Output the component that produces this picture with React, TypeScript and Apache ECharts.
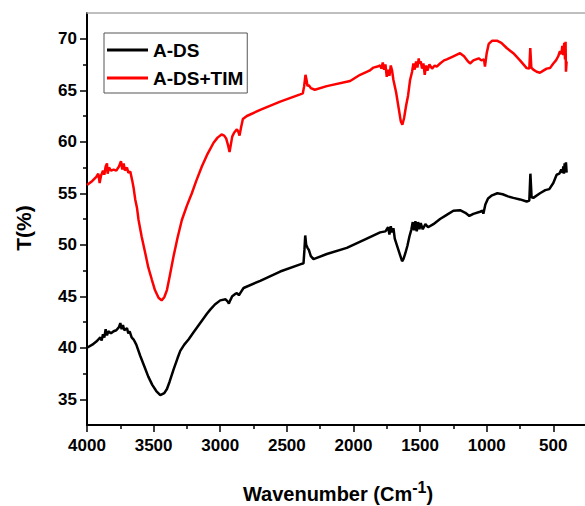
import React, { useEffect, useRef } from "react";
import * as echarts from "echarts";

const adsWn = [4000,3960,3930,3900,3890,3880,3870,3860,3850,3840,3820,3800,3780,3760,3750,3740,3730,3720,3700,3690,3680,3665,3650,3630,3600,3570,3540,3510,3480,3450,3420,3400,3380,3350,3320,3300,3270,3238,3200,3150,3100,3075,3040,3000,2960,2945,2935,2925,2910,2890,2875,2860,2845,2825,2700,2550,2400,2375,2368,2362,2355,2345,2335,2320,2300,2200,2050,1900,1800,1760,1740,1730,1720,1710,1700,1690,1670,1650,1635,1625,1610,1595,1580,1565,1555,1545,1535,1525,1515,1505,1495,1480,1460,1440,1400,1350,1300,1250,1200,1160,1130,1100,1050,1030,1025,1010,990,960,920,880,840,800,750,700,680,672,668,663,650,600,560,530,500,475,455,440,430,425,420,415,410,405,400];
const adsT = [40.0,40.3,40.6,41.0,40.7,41.3,41.0,41.8,41.2,41.6,41.4,41.6,41.7,42.0,42.4,41.8,42.2,41.7,41.9,41.4,41.6,41.0,40.8,40.3,39.2,38.2,37.2,36.4,35.8,35.4,35.6,36.0,36.7,37.9,39.0,39.7,40.3,40.8,41.5,42.4,43.3,43.7,44.2,44.6,44.7,44.5,44.3,44.6,45.0,45.2,45.3,45.1,45.4,45.8,46.5,47.4,48.1,48.2,49.5,50.9,50.0,49.7,49.5,48.9,48.6,49.1,49.7,50.6,51.2,51.3,51.7,51.0,51.8,51.2,51.6,50.6,49.8,49.0,48.4,48.6,49.2,49.9,50.8,51.5,52.2,51.4,52.3,51.3,52.2,51.5,52.1,51.5,52.0,51.7,52.0,52.5,52.9,53.3,53.35,53.1,52.8,53.0,53.2,53.3,53.0,53.9,54.5,54.8,55.0,54.9,54.7,54.55,54.4,54.2,54.3,56.9,56.9,54.6,54.55,55.0,55.3,55.4,56.0,56.8,56.9,57.3,57.0,57.6,56.9,57.9,57.2,58.0,57.0];

const timWn = [4000,3960,3930,3915,3905,3895,3880,3870,3860,3850,3845,3835,3820,3800,3780,3760,3745,3735,3725,3715,3700,3690,3675,3660,3650,3638,3625,3613,3590,3563,3540,3513,3490,3463,3440,3420,3400,3380,3350,3320,3288,3250,3213,3180,3138,3100,3050,3020,2990,2970,2955,2940,2930,2922,2910,2895,2875,2865,2855,2845,2830,2800,2700,2550,2400,2380,2370,2360,2352,2345,2335,2320,2290,2200,2025,1950,1880,1850,1820,1800,1790,1780,1770,1760,1750,1740,1730,1720,1710,1700,1680,1660,1645,1633,1620,1605,1590,1575,1560,1550,1540,1530,1520,1510,1505,1495,1485,1475,1465,1455,1445,1430,1410,1390,1375,1350,1320,1300,1250,1200,1170,1140,1125,1100,1060,1040,1020,1013,1000,985,960,920,890,850,800,750,700,680,673,668,665,650,625,600,575,550,525,500,480,463,450,440,432,425,418,412,408,405,400];
const timT = [55.8,56.2,56.6,56.9,56.0,56.7,57.2,56.8,57.6,57.9,56.9,57.5,57.2,57.3,57.2,57.6,58.1,57.3,57.9,57.2,57.5,57.0,57.1,56.2,55.5,54.4,53.6,52.4,50.8,49.2,47.8,46.6,45.6,44.85,44.6,44.9,45.6,46.9,48.9,50.7,52.4,53.8,55.0,56.2,57.6,58.7,59.9,60.4,60.7,60.6,60.3,59.6,59.0,59.6,60.5,60.9,61.2,61.0,60.6,61.3,62.2,62.5,63.1,63.9,64.6,64.7,65.4,66.5,66.0,65.4,65.5,65.2,65.05,65.4,65.9,66.5,66.9,67.2,67.3,67.4,67.1,67.7,67.0,67.5,66.3,67.0,66.4,67.4,66.9,66.0,64.8,63.2,62.0,61.65,62.3,63.5,64.5,66.0,66.8,67.6,67.0,67.8,67.2,68.1,67.6,67.8,67.1,67.6,66.5,67.4,66.9,67.5,67.1,67.4,67.3,67.6,67.9,68.0,68.3,68.6,68.3,67.8,67.6,67.9,68.1,67.9,68.0,67.3,68.6,69.5,69.8,69.8,69.6,69.1,68.6,67.9,67.15,67.1,69.1,69.1,67.2,67.0,66.8,66.7,66.9,67.1,67.15,67.6,67.9,68.3,68.8,68.5,69.3,68.4,69.6,68.0,69.7,66.8,67.8];

const seriesNames = ["A-DS", "A-DS+TIM"];
const yTitle = "T(%)";
const xTitle = "Wavenumber (Cm";
const xTitleSup = "-1";

const FONT = "'Liberation Sans', Arial, sans-serif";

function pairs(xs: number[], ys: number[]) {
  return xs.map((x, i) => [x, ys[i]]);
}

export default function App() {
  const ref = useRef<HTMLDivElement>(null);
  useEffect(() => {
    document.body.style.margin = "0";
    const chart = echarts.init(ref.current!, undefined, { renderer: "svg" });
    const labelStyle = { color: "#000", fontSize: 17, fontWeight: "bold", fontFamily: FONT };
    const tickStyle = { color: "#000", width: 1.5 };
    chart.setOption({
      animation: false,
      backgroundColor: "#fff",
      grid: [
        { left: 87, right: 0, top: 13, bottom: 81, show: false },
        { left: 87, right: 31.7, top: 38.75, bottom: 106.75, show: false },
      ],
      xAxis: [
        {
          gridIndex: 0, type: "value", inverse: true, min: 262.1, max: 4000,
          axisLine: { show: true, onZero: false, lineStyle: { color: "#000", width: 2 } },
          axisTick: { show: false },
          axisLabel: { show: false },
          splitLine: { show: false },
        },
        {
          gridIndex: 1, type: "value", inverse: true, min: 500, max: 4000, interval: 500,
          position: "bottom", offset: 25.75,
          axisLine: { show: false, onZero: false },
          axisTick: { show: true, inside: false, length: 7, lineStyle: tickStyle },
          minorTick: { show: true, splitNumber: 2, length: 4, lineStyle: tickStyle },
          axisLabel: { ...labelStyle, margin: 12, formatter: (v: number) => String(v) },
          splitLine: { show: false },
        },
        {
          gridIndex: 0, type: "value", inverse: true, min: 262.1, max: 4000, position: "top",
          axisLine: { show: true, onZero: false, lineStyle: { color: "#aaaaaa", width: 1.5 } },
          axisTick: { show: false },
          axisLabel: { show: false },
          splitLine: { show: false },
        },
      ],
      yAxis: [
        {
          gridIndex: 0, type: "value", min: 32.5, max: 72.5,
          axisLine: { show: true, onZero: false, lineStyle: { color: "#000", width: 2 } },
          axisTick: { show: false },
          axisLabel: { show: false },
          splitLine: { show: false },
        },
        {
          gridIndex: 1, type: "value", min: 35, max: 70, interval: 5,
          axisLine: { show: false, onZero: false },
          axisTick: { show: true, inside: false, length: 7, lineStyle: tickStyle },
          minorTick: { show: true, splitNumber: 2, length: 4, lineStyle: tickStyle },
          axisLabel: { ...labelStyle, margin: 10 },
          splitLine: { show: false },
        },
      ],
      legend: {
        left: 104, top: 33, orient: "vertical",
        data: seriesNames,
        icon: "rect",
        borderColor: "#555", borderWidth: 1,
        padding: [7, 4, 5, 3],
        itemWidth: 41, itemHeight: 3, itemGap: 8,
        textStyle: { color: "#000", fontSize: 19, fontWeight: "bold", fontFamily: FONT, lineHeight: 20 },
      },
      series: [
        { name: seriesNames[0], type: "line", xAxisIndex: 0, yAxisIndex: 0, data: pairs(adsWn, adsT), symbol: "none", lineStyle: { color: "#000", width: 2.5 }, itemStyle: { color: "#000" } },
        { name: seriesNames[1], type: "line", xAxisIndex: 0, yAxisIndex: 0, data: pairs(timWn, timT), symbol: "none", lineStyle: { color: "#ff0000", width: 2.5 }, itemStyle: { color: "#ff0000" } },
      ],
      graphic: [
        {
          type: "text", x: 23, y: 228, rotation: Math.PI / 2,
          style: { text: yTitle, align: "center", verticalAlign: "middle", fill: "#000", font: `bold 21px ${FONT}` },
        },
        {
          type: "text", x: 338, y: 493,
          style: {
            text: `{a|${xTitle}}{s|${xTitleSup}}{a|)}`,
            align: "center", verticalAlign: "middle",
            rich: {
              a: { fontSize: 20, fontWeight: "bold", fontFamily: FONT, fill: "#000", lineHeight: 22, verticalAlign: "bottom" },
              s: { fontSize: 16, fontWeight: "bold", fontFamily: FONT, fill: "#000", lineHeight: 22, verticalAlign: "bottom", padding: [0, 0, 9, 0] },
            },
          },
        },
      ],
    });
    return () => chart.dispose();
  }, []);
  return <div ref={ref} style={{ width: 585, height: 506 }} />;
}
